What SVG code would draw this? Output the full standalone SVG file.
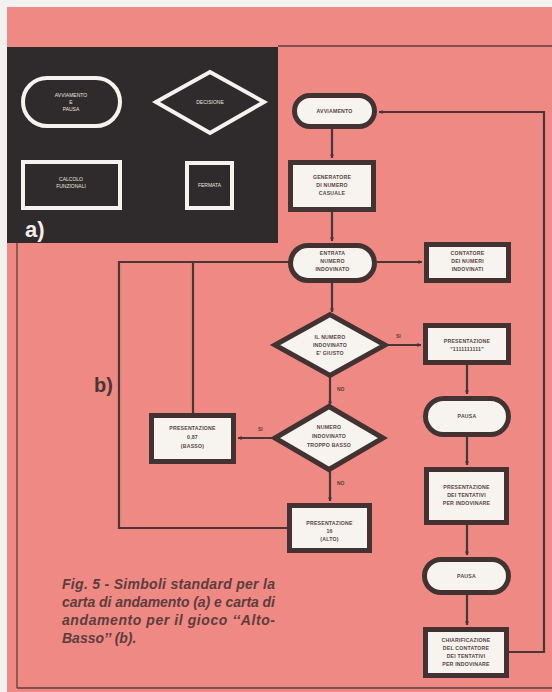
<svg xmlns="http://www.w3.org/2000/svg" width="552" height="692" viewBox="0 0 552 692">
<defs>
<marker id="ah" viewBox="0 0 10 10" refX="9" refY="5" markerWidth="4" markerHeight="4" markerUnits="userSpaceOnUse" orient="auto">
<path d="M0,0 L10,5 L0,10 z" fill="#4a3636"/>
</marker>
<style>
.wn{fill:none;stroke:#f6f2ee;stroke-width:4}
.wt{font-family:"Liberation Sans",Arial,sans-serif;font-size:5px;fill:#e8e2de;text-anchor:middle}
.bx{fill:#f7f3ef;stroke:#433232;stroke-width:5}
.nt{font-family:"Liberation Sans",Arial,sans-serif;font-size:5.2px;font-weight:bold;fill:#5a4545;text-anchor:middle;letter-spacing:0.2px}
.ln{fill:none;stroke:#4a3636;stroke-width:2.2}
.ar{fill:none;stroke:#4a3636;stroke-width:2.2;marker-end:url(#ah)}
.lb{font-family:"Liberation Sans",Arial,sans-serif;font-size:5px;font-weight:bold;fill:#5a4040}
.cap{font-family:"Liberation Sans",Arial,sans-serif;font-size:14px;font-style:italic;font-weight:bold;fill:#5e3c3e}
.fr{fill:none;stroke:#5a3e3e;stroke-width:1.3}
</style>
</defs>
<rect x="0" y="0" width="552" height="692" fill="#f3f1ef"/>
<rect x="7" y="7" width="545" height="685" fill="#ef8983"/>
<g id="frame">
<line class="fr" x1="278" y1="46" x2="552" y2="46"/>
<line class="fr" x1="17" y1="243" x2="17" y2="688"/>
<line class="fr" x1="17" y1="688" x2="552" y2="688"/>
</g>
<g id="panel-a">
<rect x="7" y="47" width="271" height="196" fill="#2f2b2c"/>
<g id="a-avviamento">
<rect class="wn" x="23" y="78" width="97" height="48" rx="24"/>
<text class="wt" x="71" y="97">AVVIAMENTO</text>
<text class="wt" x="71" y="104">E</text>
<text class="wt" x="71" y="111">PAUSA</text>
</g>
<g id="a-decisione">
<polygon class="wn" points="156,102 210,72 264,102 210,133"/>
<text class="wt" x="210" y="104">DECISIONE</text>
</g>
<g id="a-calcolo">
<rect class="wn" x="23" y="162" width="97" height="46"/>
<text class="wt" x="71" y="181">CALCOLO</text>
<text class="wt" x="71" y="188">FUNZIONALI</text>
</g>
<g id="a-fermata">
<rect class="wn" x="187" y="163" width="45" height="45"/>
<text class="wt" x="209.5" y="187">FERMATA</text>
</g>
<text x="25" y="237" font-family="Liberation Sans Narrow,Liberation Sans,Arial,sans-serif" font-size="22" font-weight="bold" fill="#f2eeea">a)</text>
</g>
<text x="94" y="392" font-family="Liberation Sans Narrow,Liberation Sans,Arial,sans-serif" font-size="20" font-weight="bold" fill="#4a3535">b)</text>
<g id="connectors">
<line class="ar" x1="332" y1="129" x2="332" y2="158"/>
<line class="ar" x1="332" y1="212" x2="332" y2="241"/>
<line class="ar" x1="377" y1="262" x2="422" y2="262"/>
<line class="ar" x1="332" y1="283" x2="332" y2="312"/>
<line class="ar" x1="385" y1="345" x2="421" y2="345"/>
<line class="ar" x1="467" y1="365" x2="467" y2="394"/>
<line class="ar" x1="467" y1="437" x2="467" y2="465"/>
<line class="ar" x1="467" y1="525" x2="467" y2="555"/>
<line class="ar" x1="467" y1="595" x2="467" y2="625"/>
<line class="ar" x1="330" y1="376" x2="330" y2="405"/>
<line class="ar" x1="275" y1="438" x2="238" y2="438"/>
<line class="ar" x1="330" y1="470" x2="330" y2="501"/>
<polyline class="ln" points="193,413 193,262"/>
<polyline class="ln" points="287,528 119,528 119,262 289,262"/>
<polyline class="ar" points="509,652 544,652 544,112 379,112"/>
<text class="lb" x="396" y="338">SI</text>
<text class="lb" x="337" y="391">NO</text>
<text class="lb" x="258" y="431">SI</text>
<text class="lb" x="337" y="485">NO</text>
</g>
<g id="n-avviamento">
<rect class="bx" x="294.5" y="95.5" width="80" height="31" rx="15.5"/>
<text class="nt" x="334.5" y="113">AVVIAMENTO</text>
</g>
<g id="n-generatore">
<rect class="bx" x="290.5" y="162.5" width="83" height="47"/>
<text class="nt" x="332" y="179">GENERATORE</text>
<text class="nt" x="332" y="187">DI NUMERO</text>
<text class="nt" x="332" y="195">CASUALE</text>
</g>
<g id="n-entrata">
<rect class="bx" x="290.5" y="245.5" width="84" height="35" rx="17.5"/>
<text class="nt" x="332.5" y="255">ENTRATA</text>
<text class="nt" x="332.5" y="263">NUMERO</text>
<text class="nt" x="332.5" y="271">INDOVINATO</text>
</g>
<g id="n-contatore">
<rect class="bx" x="426.5" y="244.5" width="82" height="36"/>
<text class="nt" x="467.5" y="255">CONTATORE</text>
<text class="nt" x="467.5" y="263">DEI NUMERI</text>
<text class="nt" x="467.5" y="271">INDOVINATI</text>
</g>
<g id="n-giusto">
<polygon class="bx" points="275,345 330,314.5 385,345 330,375.5"/>
<text class="nt" x="330" y="339">IL NUMERO</text>
<text class="nt" x="330" y="347">INDOVINATO</text>
<text class="nt" x="330" y="355">E' GIUSTO</text>
</g>
<g id="n-presentazione1">
<rect class="bx" x="425.5" y="325.5" width="83" height="37"/>
<text class="nt" x="467" y="343">PRESENTAZIONE</text>
<text class="nt" x="467" y="351">"1111111111"</text>
</g>
<g id="n-pausa1">
<rect class="bx" x="425.5" y="398.5" width="83" height="36" rx="18"/>
<text class="nt" x="467" y="418">PAUSA</text>
</g>
<g id="n-basso-test">
<polygon class="bx" points="275,438 329,406.5 383,438 329,469.5"/>
<text class="nt" x="329" y="429">NUMERO</text>
<text class="nt" x="329" y="438">INDOVINATO</text>
<text class="nt" x="329" y="447">TROPPO BASSO</text>
</g>
<g id="n-presentazione-basso">
<rect class="bx" x="151.5" y="415.5" width="82" height="46"/>
<text class="nt" x="192.5" y="430">PRESENTAZIONE</text>
<text class="nt" x="192.5" y="439">0,87</text>
<text class="nt" x="192.5" y="448">(BASSO)</text>
</g>
<g id="n-presentazione-alto">
<rect class="bx" x="289.5" y="505.5" width="80" height="45"/>
<text class="nt" x="329.5" y="525">PRESENTAZIONE</text>
<text class="nt" x="329.5" y="533">16</text>
<text class="nt" x="329.5" y="541">(ALTO)</text>
</g>
<g id="n-tentativi">
<rect class="bx" x="426.5" y="469.5" width="80" height="53"/>
<text class="nt" x="466.5" y="489">PRESENTAZIONE</text>
<text class="nt" x="466.5" y="497">DEI TENTATIVI</text>
<text class="nt" x="466.5" y="505">PER INDOVINARE</text>
</g>
<g id="n-pausa2">
<rect class="bx" x="424.5" y="559.5" width="84" height="33" rx="16.5"/>
<text class="nt" x="466.5" y="578">PAUSA</text>
</g>
<g id="n-chiarificazione">
<rect class="bx" x="425.5" y="629.5" width="81" height="46"/>
<text class="nt" x="466" y="642">CHIARIFICAZIONE</text>
<text class="nt" x="466" y="650">DEL CONTATORE</text>
<text class="nt" x="466" y="658">DEI TENTATIVI</text>
<text class="nt" x="466" y="666">PER INDOVINARE</text>
</g>
<g id="caption">
<text class="cap" x="62" y="589" textLength="213" lengthAdjust="spacing">Fig. 5 - Simboli standard per la</text>
<text class="cap" x="62" y="607" textLength="213" lengthAdjust="spacing">carta di andamento (a) e carta di</text>
<text class="cap" x="62" y="625" textLength="213" lengthAdjust="spacing">andamento per il gioco ‘‘Alto-</text>
<text class="cap" x="62" y="643">Basso’’ (b).</text>
</g>
</svg>
